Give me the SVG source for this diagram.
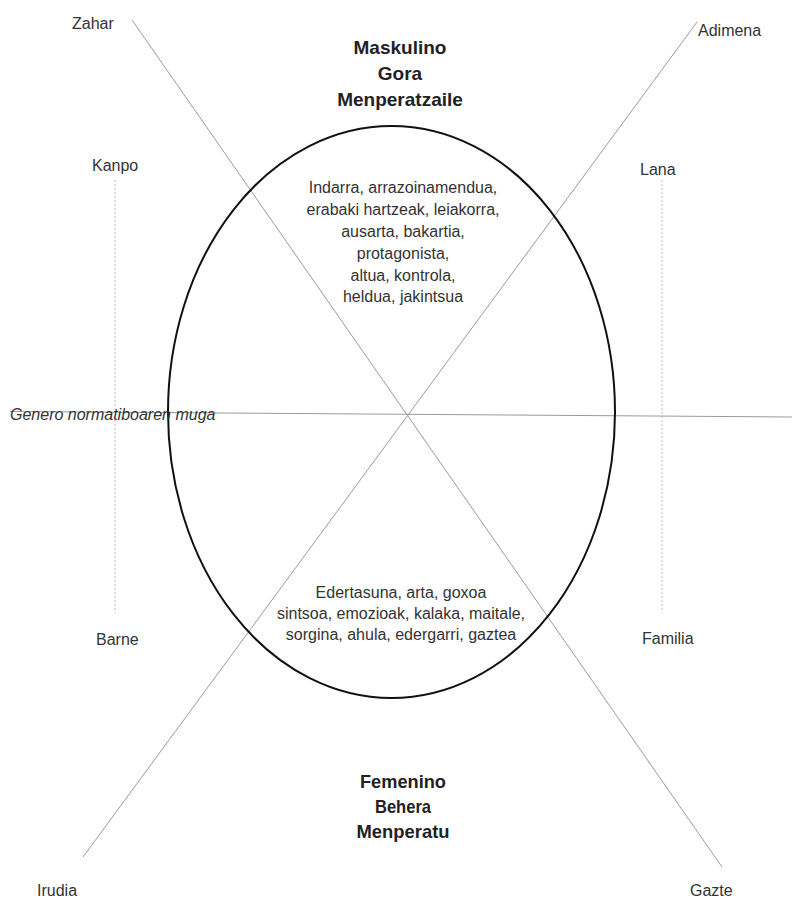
<svg xmlns="http://www.w3.org/2000/svg" width="792" height="903" viewBox="0 0 792 903">
<style>
.ax{stroke:#9a9a9a;stroke-width:1;fill:none}
.dot{stroke:#bdbdbd;stroke-width:1;stroke-dasharray:2,2;fill:none}
.lbl{font-family:"Liberation Sans",Arial,sans-serif;font-size:16px;fill:#333}
.body{font-family:"Liberation Sans",Arial,sans-serif;font-size:16px;fill:#333;text-anchor:middle}
.ttl{font-family:"Liberation Sans",Arial,sans-serif;font-size:19px;font-weight:bold;fill:#222;text-anchor:middle}
</style>
<rect width="792" height="903" fill="#fff"/>
<g id="connectors">
<line class="ax" x1="132" y1="20" x2="722" y2="867"/>
<line class="ax" x1="697" y1="22" x2="83" y2="857"/>
<line class="ax" x1="10" y1="411.5" x2="792" y2="417"/>
<line class="dot" x1="115" y1="180" x2="115" y2="613"/>
<line class="dot" x1="662" y1="180" x2="662" y2="613"/>
</g>
<g id="ellipse">
<ellipse cx="391.5" cy="412" rx="223.5" ry="286" fill="none" stroke="#111" stroke-width="2"/>
</g>
<g id="top-title">
<text class="ttl" x="400" y="54">Maskulino</text>
<text class="ttl" x="400" y="80">Gora</text>
<text class="ttl" x="400" y="106">Menperatzaile</text>
</g>
<g id="bottom-title">
<text class="ttl" x="403" y="788" textLength="86" lengthAdjust="spacingAndGlyphs">Femenino</text>
<text class="ttl" x="403" y="813" textLength="56" lengthAdjust="spacingAndGlyphs">Behera</text>
<text class="ttl" x="403" y="838" textLength="93" lengthAdjust="spacingAndGlyphs">Menperatu</text>
</g>
<g id="upper-traits">
<text class="body" x="403" y="193">Indarra, arrazoinamendua,</text>
<text class="body" x="403" y="215">erabaki hartzeak, leiakorra,</text>
<text class="body" x="403" y="237">ausarta, bakartia,</text>
<text class="body" x="403" y="259">protagonista,</text>
<text class="body" x="403" y="281">altua, kontrola,</text>
<text class="body" x="403" y="302">heldua, jakintsua</text>
</g>
<g id="lower-traits">
<text class="body" x="401" y="598">Edertasuna, arta, goxoa</text>
<text class="body" x="401" y="619">sintsoa, emozioak, kalaka, maitale,</text>
<text class="body" x="401" y="640">sorgina, ahula, edergarri, gaztea</text>
</g>
<g id="labels">
<text class="lbl" x="72" y="29">Zahar</text>
<text class="lbl" x="698" y="36">Adimena</text>
<text class="lbl" x="92" y="171">Kanpo</text>
<text class="lbl" x="640" y="175">Lana</text>
<text class="lbl" x="96" y="645">Barne</text>
<text class="lbl" x="642" y="644">Familia</text>
<text class="lbl" x="37" y="896">Irudia</text>
<text class="lbl" x="690" y="896">Gazte</text>
<text class="lbl" x="10" y="420" font-style="italic">Genero normatiboaren muga</text>
</g>
</svg>
